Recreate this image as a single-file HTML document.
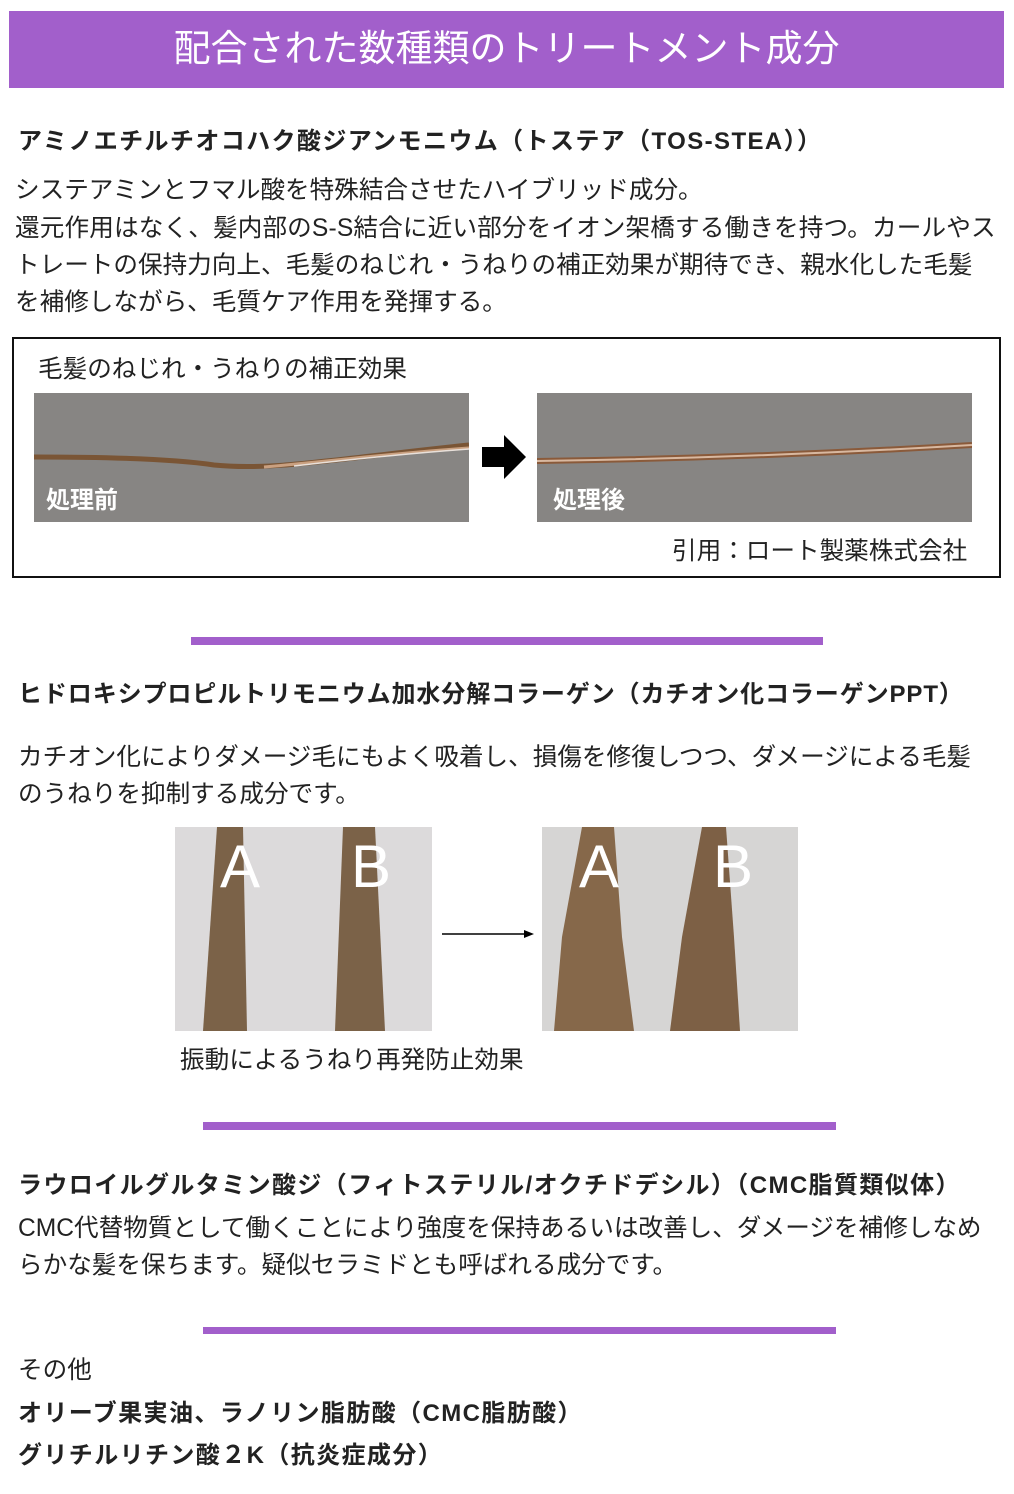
<!DOCTYPE html>
<html><head><meta charset="utf-8"><style>
*{margin:0;padding:0;box-sizing:border-box}
body{width:1014px;height:1494px;background:#fff;position:relative;font-family:"Liberation Sans","Noto Sans CJK JP",sans-serif;color:#222;overflow:hidden}
.a{position:absolute;white-space:nowrap;line-height:1}
.p{font-size:24.6px}
.b{font-size:24px;font-weight:bold;letter-spacing:1.4px}
.bar{position:absolute;background:#a25fcb}
.img{position:absolute}
</style></head><body>
<div class="bar" style="left:9px;top:11px;width:995px;height:77px"></div>
<div class="a" style="left:9px;width:995px;top:30px;text-align:center;color:#fff;font-size:37px">配合された数種類のトリートメント成分</div>

<div class="a b" style="left:18px;top:130px">アミノエチルチオコハク酸ジアンモニウム（トステア（TOS-STEA））</div>
<div class="a p" style="left:15px;top:179px">システアミンとフマル酸を特殊結合させたハイブリッド成分。</div>
<div class="a p" style="left:15px;top:217px;letter-spacing:0.15px">還元作用はなく、髪内部のS-S結合に近い部分をイオン架橋する働きを持つ。カールやス</div>
<div class="a p" style="left:15px;top:254px">トレートの保持力向上、毛髪のねじれ・うねりの補正効果が期待でき、親水化した毛髪</div>
<div class="a p" style="left:15px;top:291px">を補修しながら、毛質ケア作用を発揮する。</div>

<div style="position:absolute;left:12px;top:337px;width:989px;height:241px;border:2px solid #111"></div>
<div class="a p" style="left:38px;top:358px">毛髪のねじれ・うねりの補正効果</div>
<svg class="img" style="left:34px;top:393px" width="435" height="129">
<rect width="435" height="129" fill="#878583"/>
<path d="M0,64 C80,64 140,66 180,72 C240,78 300,66 435,52" stroke="#7a5535" stroke-width="5" fill="none"/>
<path d="M230,74 C300,68 360,60 435,55" stroke="#c9a080" stroke-width="3" fill="none"/>
<path d="M260,73 C320,66 380,60 435,56" stroke="#e8e0da" stroke-width="1.5" fill="none"/>
<text x="12" y="115" fill="#fff" font-size="24" font-weight="bold" font-family="Noto Sans CJK JP">処理前</text>
</svg>
<svg class="img" style="left:482px;top:433px" width="46" height="50"><polygon points="0,14 22,14 22,2 44,24 22,46 22,34 0,34" fill="#000"/></svg>
<svg class="img" style="left:537px;top:393px" width="435" height="129">
<rect width="435" height="129" fill="#878583"/>
<path d="M0,68 C150,66 300,60 435,52" stroke="#8a5a3a" stroke-width="6" fill="none"/>
<path d="M0,68 C150,66 300,60 435,52" stroke="#d8b8a0" stroke-width="2" fill="none"/>
<text x="16" y="115" fill="#fff" font-size="24" font-weight="bold" font-family="Noto Sans CJK JP">処理後</text>
</svg>
<div class="a p" style="left:672px;top:540px">引用：ロート製薬株式会社</div>

<div class="bar" style="left:191px;top:637px;width:632px;height:8px"></div>
<div class="a b" style="left:18px;top:683px;letter-spacing:0.9px">ヒドロキシプロピルトリモニウム加水分解コラーゲン（カチオン化コラーゲンPPT）</div>
<div class="a p" style="left:18px;top:746px">カチオン化によりダメージ毛にもよく吸着し、損傷を修復しつつ、ダメージによる毛髪</div>
<div class="a p" style="left:18px;top:783px">のうねりを抑制する成分です。</div>

<svg class="img" style="left:175px;top:827px" width="257" height="204">
<rect width="257" height="204" fill="#dcdadb"/>
<path d="M42,0 L68,0 L72,204 L28,204 Z" fill="#7b6248"/>
<path d="M168,0 L200,0 L210,204 L160,204 Z" fill="#7b6248"/>
<text x="45" y="60" fill="#fff" font-size="60" font-family="Liberation Sans">A</text>
<text x="176" y="60" fill="#fff" font-size="60" font-family="Liberation Sans">B</text>
</svg>
<svg class="img" style="left:442px;top:928px" width="92" height="12"><line x1="0" y1="6" x2="84" y2="6" stroke="#000" stroke-width="1.5"/><polygon points="82,2 92,6 82,10" fill="#000"/></svg>
<svg class="img" style="left:542px;top:827px" width="256" height="204">
<rect width="256" height="204" fill="#d6d5d4"/>
<path d="M40,0 L72,0 L80,110 L92,204 L12,204 L20,110 Z" fill="#86684a"/>
<path d="M160,0 L184,0 L192,110 L198,204 L128,204 L140,110 Z" fill="#7d6045"/>
<text x="37" y="60" fill="#fff" font-size="60" font-family="Liberation Sans">A</text>
<text x="171" y="60" fill="#fff" font-size="60" font-family="Liberation Sans">B</text>
</svg>
<div class="a p" style="left:180px;top:1049px">振動によるうねり再発防止効果</div>

<div class="bar" style="left:203px;top:1122px;width:633px;height:8px"></div>
<div class="a b" style="left:18px;top:1174px">ラウロイルグルタミン酸ジ（フィトステリル/オクチドデシル）（CMC脂質類似体）</div>
<div class="a p" style="left:18px;top:1217px">CMC代替物質として働くことにより強度を保持あるいは改善し、ダメージを補修しなめ</div>
<div class="a p" style="left:18px;top:1254px">らかな髪を保ちます。疑似セラミドとも呼ばれる成分です。</div>

<div class="bar" style="left:203px;top:1327px;width:633px;height:7px"></div>
<div class="a p" style="left:18px;top:1359px">その他</div>
<div class="a b" style="left:18px;top:1402px">オリーブ果実油、ラノリン脂肪酸（CMC脂肪酸）</div>
<div class="a b" style="left:18px;top:1444px">グリチルリチン酸２K（抗炎症成分）</div>
</body></html>
